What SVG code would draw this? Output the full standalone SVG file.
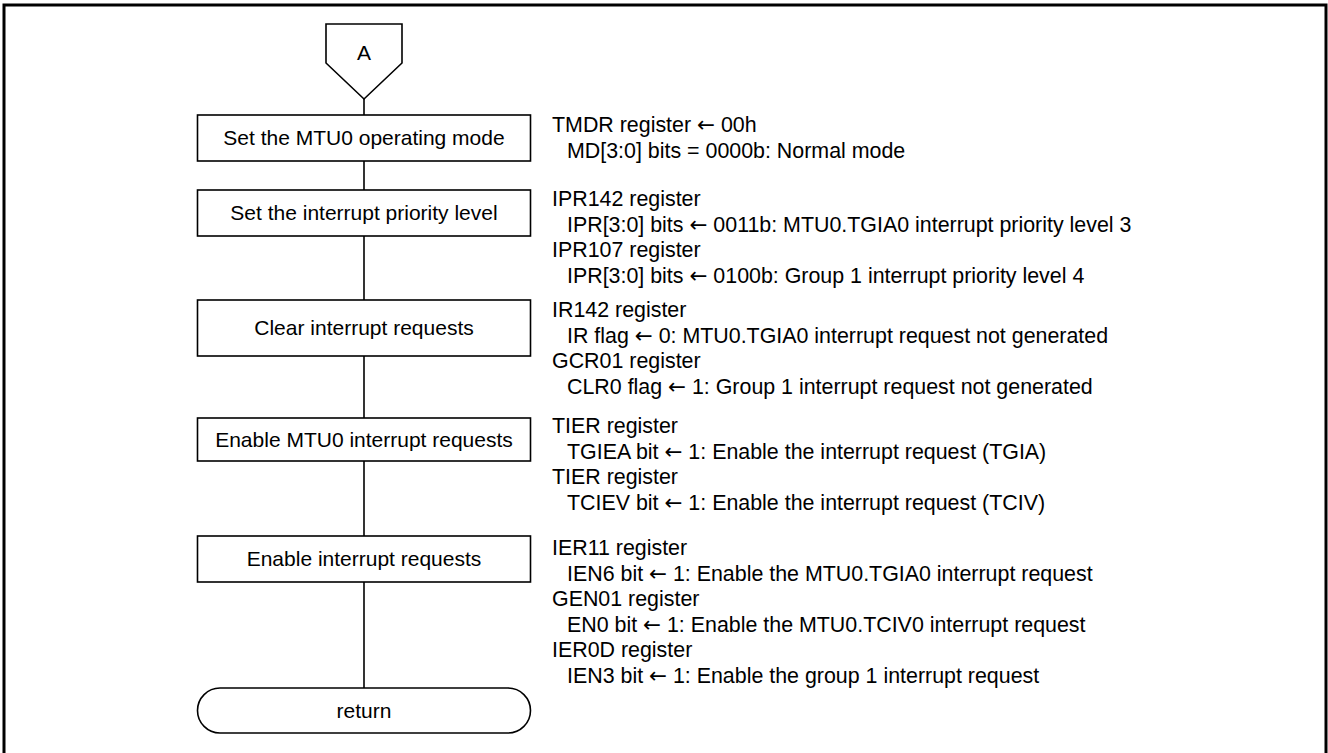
<svg xmlns="http://www.w3.org/2000/svg" width="1328" height="753" viewBox="0 0 1328 753">
<style>
.frame{fill:none;stroke:#000;stroke-width:3}
.shape{fill:#fff;stroke:#000;stroke-width:1.6}
.conn{fill:none;stroke:#000;stroke-width:1.6}
text{font-family:"Liberation Sans",Arial,sans-serif;font-size:21px;fill:#000}
.c{text-anchor:middle}
#notes text{font-size:21.4px}
.ar{font-family:"DejaVu Sans",sans-serif}
</style>
<rect class="frame" x="4" y="5" width="1322" height="760"/>
<g id="connectors">
<line class="conn" x1="364" y1="99" x2="364" y2="115"/>
<line class="conn" x1="364" y1="161" x2="364" y2="190"/>
<line class="conn" x1="364" y1="236" x2="364" y2="300"/>
<line class="conn" x1="364" y1="356" x2="364" y2="418"/>
<line class="conn" x1="364" y1="461" x2="364" y2="536"/>
<line class="conn" x1="364" y1="582" x2="364" y2="688"/>
</g>
<g id="nodeA">
<polygon class="shape" points="326,24 402,24 402,63 364,99 326,63"/>
<text class="c" x="364" y="60">A</text>
</g>
<g id="node1">
<rect class="shape" x="197.5" y="115" width="333" height="46"/>
<text class="c" x="364" y="145">Set the MTU0 operating mode</text>
</g>
<g id="node2">
<rect class="shape" x="197.5" y="190" width="333" height="46"/>
<text class="c" x="364" y="220">Set the interrupt priority level</text>
</g>
<g id="node3">
<rect class="shape" x="197.5" y="300" width="333" height="56"/>
<text class="c" x="364" y="335">Clear interrupt requests</text>
</g>
<g id="node4">
<rect class="shape" x="197.5" y="418" width="333" height="43"/>
<text class="c" x="364" y="447">Enable MTU0 interrupt requests</text>
</g>
<g id="node5">
<rect class="shape" x="197.5" y="536" width="333" height="46"/>
<text class="c" x="364" y="566">Enable interrupt requests</text>
</g>
<g id="nodeReturn">
<rect class="shape" x="197.5" y="688" width="333" height="45" rx="22.5" ry="22.5"/>
<text class="c" x="364" y="718">return</text>
</g>
<g id="notes">
<text x="552" y="132">TMDR register <tspan class="ar">←</tspan> 00h</text>
<text x="567" y="157.5">MD[3:0] bits = 0000b: Normal mode</text>
<text x="552" y="206">IPR142 register</text>
<text x="567" y="231.5">IPR[3:0] bits <tspan class="ar">←</tspan> 0011b: MTU0.TGIA0 interrupt priority level 3</text>
<text x="552" y="257">IPR107 register</text>
<text x="567" y="282.5">IPR[3:0] bits <tspan class="ar">←</tspan> 0100b: Group 1 interrupt priority level 4</text>
<text x="552" y="317">IR142 register</text>
<text x="567" y="342.5">IR flag <tspan class="ar">←</tspan> 0: MTU0.TGIA0 interrupt request not generated</text>
<text x="552" y="368">GCR01 register</text>
<text x="567" y="393.5">CLR0 flag <tspan class="ar">←</tspan> 1: Group 1 interrupt request not generated</text>
<text x="552" y="433">TIER register</text>
<text x="567" y="458.5">TGIEA bit <tspan class="ar">←</tspan> 1: Enable the interrupt request (TGIA)</text>
<text x="552" y="484">TIER register</text>
<text x="567" y="509.5">TCIEV bit <tspan class="ar">←</tspan> 1: Enable the interrupt request (TCIV)</text>
<text x="552" y="555">IER11 register</text>
<text x="567" y="580.5">IEN6 bit <tspan class="ar">←</tspan> 1: Enable the MTU0.TGIA0 interrupt request</text>
<text x="552" y="606">GEN01 register</text>
<text x="567" y="631.5">EN0 bit <tspan class="ar">←</tspan> 1: Enable the MTU0.TCIV0 interrupt request</text>
<text x="552" y="657">IER0D register</text>
<text x="567" y="682.5">IEN3 bit <tspan class="ar">←</tspan> 1: Enable the group 1 interrupt request</text>
</g>
</svg>
